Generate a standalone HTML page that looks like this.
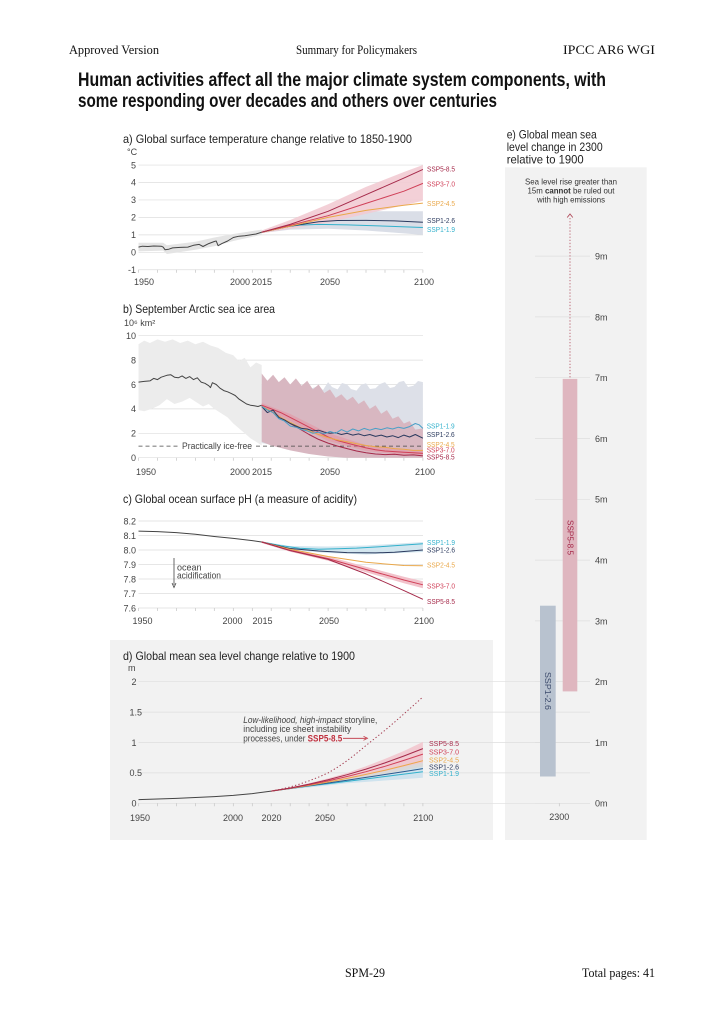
<!DOCTYPE html>
<html><head><meta charset="utf-8"><style>
html,body{margin:0;padding:0;background:#fff}
svg{display:block}
text{font-family:"Liberation Sans",sans-serif}
.t{font-size:9px;fill:#444}
.h{font-size:12px;fill:#222}
.s{font-size:7.5px}
.sf{font-family:"Liberation Serif",serif;font-size:12.5px;fill:#111}
.g{stroke:#dedede;stroke-width:0.7;fill:none}
.ln{fill:none;stroke-width:1;stroke-linejoin:round}
</style></head><body>
<svg width="724" height="1023" viewBox="0 0 724 1023" xmlns="http://www.w3.org/2000/svg">
<defs>
<path id="tk" d="M138.5 0v3M157.5 0v3M176.4 0v3M195.4 0v3M214.3 0v3M233.3 0v3M252.3 0v3M271.2 0v3M290.2 0v3M309.1 0v3M328.1 0v3M347.1 0v3M366 0v3M385 0v3M403.9 0v3M422.9 0v3" stroke="#c4c4c4" stroke-width="0.7"/>
</defs>
<rect width="724" height="1023" fill="#fff"/>

<!-- Header -->
<text class="sf" x="69" y="54" textLength="90" lengthAdjust="spacingAndGlyphs">Approved Version</text>
<text class="sf" x="296" y="54" textLength="121" lengthAdjust="spacingAndGlyphs">Summary for Policymakers</text>
<text class="sf" x="563" y="54" textLength="92" lengthAdjust="spacingAndGlyphs">IPCC AR6 WGI</text>

<text x="78" y="86" font-size="19.5" font-weight="bold" fill="#111" textLength="528" lengthAdjust="spacingAndGlyphs">Human activities affect all the major climate system components, with</text>
<text x="78" y="107" font-size="19.5" font-weight="bold" fill="#111" textLength="419" lengthAdjust="spacingAndGlyphs">some responding over decades and others over centuries</text>

<!-- Panel backgrounds -->
<rect x="110" y="640" width="383" height="200" fill="#f2f2f2"/>
<rect x="505" y="167.3" width="141.7" height="672.7" fill="#f2f2f2"/>

<!-- ===== Panel a ===== -->
<text class="h" x="123" y="143" textLength="289" lengthAdjust="spacingAndGlyphs">a) Global surface temperature change relative to 1850-1900</text>
<text class="t" x="127" y="155" font-size="8">°C</text>
<g class="g">
<path d="M138.5 165.05H423M138.5 182.5H423M138.5 199.95H423M138.5 217.4H423M138.5 234.85H423M138.5 252.3H423M138.5 269.75H423"/>
</g>
<use href="#tk" y="269.75"/>
<g class="t" text-anchor="end">
<text x="136" y="168.3">5</text><text x="136" y="185.7">4</text><text x="136" y="203.2">3</text><text x="136" y="220.6">2</text><text x="136" y="238.1">1</text><text x="136" y="255.5">0</text><text x="136" y="273">-1</text>
</g>
<g class="t" text-anchor="middle">
<text x="144" y="285">1950</text><text x="240" y="285">2000</text><text x="262" y="285">2015</text><text x="330" y="285">2050</text><text x="424" y="285">2100</text>
</g>
<polygon fill="#e4e4e4" points="138.5,242.7 163.1,242.7 166.9,245.3 195.4,241.8 214.3,237.5 233.3,234.0 261.7,229.6 261.7,234.85 233.3,241.0 214.3,246.2 195.4,249.7 166.9,254.0 163.1,250.6 138.5,251.4"/>
<polygon fill="#dadee7" points="261.7,231.0 290.2,222.6 328.1,213.9 366.0,211.3 422.9,211.3 422.9,234.85 366.0,230.5 328.1,228.7 290.2,229.6 261.7,233.1"/>
<polygon fill="#f2cbd3" fill-opacity="0.9" points="261.7,230.5 290.2,220.0 328.1,204.3 366.0,186.9 403.9,172.0 422.9,165.05 422.9,200.8 403.9,205.2 366.0,213.9 328.1,222.6 290.2,228.7 261.7,233.1"/>
<polyline class="ln" stroke="#444" points="138.5,247.1 142.3,246.2 148.0,246.5 153.7,246.0 161.2,246.2 163.1,247.1 165.0,249.7 168.8,249.2 172.6,247.9 180.2,247.4 187.8,247.1 193.5,245.3 199.2,244.4 203.0,246.5 208.7,243.6 214.3,241.5 216.2,241.0 218.1,245.7 221.9,243.6 227.6,241.0 233.3,237.5 239.0,236.2 244.7,235.7 250.4,234.9 256.1,234.0 261.7,232.2"/>
<polyline class="ln" stroke="#33b1cc" points="261.7,232.2 280.7,227.5 299.7,225.1 318.6,224.4 347.1,224.9 385.0,226.1 422.9,227.5"/>
<polyline class="ln" stroke="#2b3a5e" points="261.7,232.2 290.2,226.1 318.6,221.8 337.6,220.5 366.0,220.4 394.5,220.9 422.9,222.3"/>
<polyline class="ln" stroke="#eaa84a" points="261.7,232.2 290.2,226.1 328.1,217.4 366.0,210.4 403.9,205.2 422.9,203.1"/>
<polyline class="ln" stroke="#d04058" points="261.7,232.2 290.2,225.3 328.1,215.7 366.0,203.4 403.9,191.2 422.9,183.4"/>
<polyline class="ln" stroke="#a52a4a" points="261.7,232.2 290.2,224.4 328.1,211.3 366.0,194.7 403.9,178.1 422.9,169.4"/>
<g class="s">
<text x="427" y="171.7" fill="#a52a4a" textLength="28" lengthAdjust="spacingAndGlyphs">SSP5-8.5</text>
<text x="427" y="186.5" fill="#d04058" textLength="28" lengthAdjust="spacingAndGlyphs">SSP3-7.0</text>
<text x="427" y="205.8" fill="#eaa84a" textLength="28" lengthAdjust="spacingAndGlyphs">SSP2-4.5</text>
<text x="427" y="222.8" fill="#2b3a5e" textLength="28" lengthAdjust="spacingAndGlyphs">SSP1-2.6</text>
<text x="427" y="231.8" fill="#33b1cc" textLength="28" lengthAdjust="spacingAndGlyphs">SSP1-1.9</text>
</g>

<!-- ===== Panel b ===== -->
<text class="h" x="123" y="313" textLength="152" lengthAdjust="spacingAndGlyphs">b) September Arctic sea ice area</text>
<text class="t" x="124" y="326" font-size="7.5">10⁶ km²</text>
<g class="g">
<path d="M138.5 335.7H423M138.5 360.1H423M138.5 384.5H423M138.5 408.9H423M138.5 433.3H423M138.5 457.7H423"/>
</g>
<use href="#tk" y="457.7"/>
<g class="t" text-anchor="end">
<text x="136" y="339">10</text><text x="136" y="363.4">8</text><text x="136" y="387.8">6</text><text x="136" y="412.2">4</text><text x="136" y="436.6">2</text><text x="136" y="461">0</text>
</g>
<g class="t" text-anchor="middle">
<text x="146" y="475">1950</text><text x="240" y="475">2000</text><text x="262" y="475">2015</text><text x="330" y="475">2050</text><text x="425" y="475">2100</text>
</g>
<polygon fill="#ececec" points="138.5,344.2 144.2,340.6 149.9,343.0 157.5,339.4 165.0,341.8 172.6,339.4 180.2,343.0 187.8,340.6 195.4,344.2 203.0,341.8 210.5,345.5 218.1,347.9 225.7,352.8 233.3,355.2 239.0,361.3 244.7,357.7 250.4,367.4 256.1,362.5 261.7,365.0 261.7,445.5 256.1,441.8 250.4,438.2 244.7,433.3 239.0,428.4 233.3,423.5 227.6,417.4 221.9,413.8 214.3,408.9 208.7,404.0 203.0,406.5 195.4,401.6 189.7,397.9 182.1,401.6 174.5,404.0 166.9,399.1 159.4,405.2 151.8,408.9 144.2,411.3 138.5,410.1"/>
<polygon fill="#dde0e8" points="261.7,384.5 271.2,384.5 280.7,389.4 290.2,391.8 299.7,394.3 309.1,389.4 318.6,385.7 323,390 328.1,382.1 332,387 337.6,389.4 342,383 347.1,384.5 351,389 356.5,390.6 361,385 366.0,383.3 370,389 375.5,388.2 380,384 385.0,382.1 390,388 394.5,386.9 399,382 403.9,380.9 408,387 413.4,385.7 418,381 422.9,382.1 422.9,454.0 366.0,454.0 328.1,452.8 290.2,447.9 261.7,443.1"/>
<polygon fill="#d8b7c1" points="261.7,373.5 267.4,380.8 273.1,374.7 278.8,382.1 284.5,377.2 290.2,384.5 295.9,378.4 301.6,385.7 307.2,380.8 312.9,389.4 318.6,384.5 324.3,393.0 330.0,389.4 335.7,397.9 341.4,394.3 347.1,400.4 352.8,396.7 358.5,404.0 364.1,400.4 369.8,408.9 375.5,405.2 381.2,413.8 386.9,410.1 392.6,418.7 398.3,416.2 403.9,423.5 409.6,421.1 415.3,429.6 422.9,428.4 422.9,457.7 347.1,457.7 328.1,456.5 309.1,454.0 290.2,450.4 271.2,445.5 261.7,441.8"/>
<!-- dashed practically ice-free -->
<path d="M138.5 446.1H179M256 446.1H423" stroke="#444" stroke-width="0.8" stroke-dasharray="4 3" fill="none"/>
<text class="t" x="182" y="449.2" textLength="70" lengthAdjust="spacingAndGlyphs">Practically ice-free</text>
<polygon fill="#e88a9a" fill-opacity="0.45" points="261.7,403 290.2,414 328.1,433 366.0,445 403.9,450 422.9,451 422.9,456 403.9,455 366.0,451 328.1,441 290.2,421 261.7,407"/>
<polyline class="ln" stroke="#444" points="138.5,382.1 144.2,381.4 149.9,380.9 153.7,378.4 157.5,379.6 161.2,377.2 166.9,375.3 170.7,374.7 174.5,377.2 178.3,377.8 182.1,375.9 185.9,378.4 189.7,376.6 193.5,379.6 197.3,377.8 201.1,382.1 204.9,383.3 208.7,385.7 210.5,387.6 212.4,382.7 216.2,384.5 220.0,388.2 223.8,390.6 227.6,391.8 231.4,393.6 235.2,395.5 239.0,399.1 242.8,401.6 246.6,404.0 250.4,405.2 254.2,405.8 258.0,406.5 261.7,405.2"/>
<polyline class="ln" stroke="#a52a4a" points="261.7,406.5 271.2,411.3 280.7,417.4 290.2,423.5 299.7,429.0 309.1,434.5 318.6,439.4 328.1,443.1 337.6,446.1 347.1,448.6 356.5,451.0 366.0,452.8 375.5,454.0 385.0,454.6 394.5,454.2 403.9,455.3 413.4,454.9 422.9,455.9"/>
<polyline class="ln" stroke="#d04058" points="261.7,405.2 271.2,408.9 280.7,412.6 290.2,417.4 299.7,422.3 309.1,427.2 318.6,432.1 328.1,437.0 337.6,440.6 347.1,443.1 356.5,445.5 366.0,447.9 375.5,449.8 385.0,451.0 394.5,451.6 403.9,452.2 413.4,452.8 422.9,453.4"/>
<polyline class="ln" stroke="#eaa84a" points="261.7,406.5 271.2,411.3 280.7,417.4 290.2,422.3 299.7,427.2 309.1,430.9 318.6,434.5 328.1,437.6 337.6,440.0 347.1,441.8 356.5,443.7 366.0,445.5 375.5,446.7 385.0,447.3 394.5,448.6 403.9,449.2 413.4,450.4 422.9,450.4"/>
<polyline class="ln" stroke="#2b3a5e" points="261.7,406.5 267.4,412.6 273.1,410.1 278.8,417.4 284.5,419.9 290.2,423.5 295.9,426.0 301.6,428.4 307.2,429.0 312.9,430.9 318.6,430.2 324.3,432.1 330.0,433.3 335.7,432.7 341.4,434.5 347.1,433.3 352.8,435.1 358.5,433.9 364.1,435.7 369.8,434.5 375.5,436.4 381.2,435.1 386.9,437.0 392.6,435.7 398.3,437.6 403.9,435.1 409.6,437.0 415.3,434.5 422.9,438.2"/>
<polyline class="ln" stroke="#4a9fc6" points="261.7,406.5 267.4,410.1 273.1,412.6 278.8,418.7 284.5,421.1 290.2,426.0 295.9,427.2 301.6,429.6 307.2,430.9 312.9,433.3 318.6,432.1 324.3,433.9 330.0,431.5 335.7,433.3 341.4,429.6 347.1,432.1 352.8,429.0 358.5,430.9 364.1,428.4 369.8,430.2 375.5,428.4 381.2,429.6 386.9,427.8 392.6,429.0 398.3,427.2 403.9,428.4 409.6,426.6 415.3,423.5 419.1,424.8 422.9,428.4"/>
<g class="s">
<text x="426.7" y="428.3" fill="#33b1cc" textLength="28" lengthAdjust="spacingAndGlyphs">SSP1-1.9</text>
<text x="426.7" y="436.9" fill="#2b3a5e" textLength="28" lengthAdjust="spacingAndGlyphs">SSP1-2.6</text>
<text x="426.7" y="446.9" fill="#eaa84a" textLength="28" lengthAdjust="spacingAndGlyphs">SSP2-4.5</text>
<text x="426.7" y="452.6" fill="#d04058" textLength="28" lengthAdjust="spacingAndGlyphs">SSP3-7.0</text>
<text x="426.7" y="459.3" fill="#a52a4a" textLength="28" lengthAdjust="spacingAndGlyphs">SSP5-8.5</text>
</g>

<!-- ===== Panel c ===== -->
<text class="h" x="123" y="503" textLength="234" lengthAdjust="spacingAndGlyphs">c) Global ocean surface pH (a measure of acidity)</text>
<g class="g">
<path d="M138.5 521H423M138.5 535.5H423M138.5 550H423M138.5 564.5H423M138.5 579H423M138.5 593.5H423M138.5 608H423"/>
</g>
<use href="#tk" y="608"/>
<g class="t" text-anchor="end">
<text x="136" y="524.3">8.2</text><text x="136" y="538.8">8.1</text><text x="136" y="553.3">8.0</text><text x="136" y="567.8">7.9</text><text x="136" y="582.3">7.8</text><text x="136" y="596.8">7.7</text><text x="136" y="611.3">7.6</text>
</g>
<g class="t" text-anchor="middle">
<text x="142.5" y="624">1950</text><text x="232.5" y="624">2000</text><text x="262.5" y="624">2015</text><text x="329" y="624">2050</text><text x="424" y="624">2100</text>
</g>
<polygon fill="#d3e6ef" points="261.7,541.5 290.2,546 328.1,546.5 366.0,545.5 422.9,542 422.9,552 366.0,554.5 328.1,553 290.2,550 261.7,542.5"/>
<polygon fill="#f2c2cb" points="261.7,541 290.2,548.8 328.1,556.4 366.0,566.8 403.9,576.8 422.9,581.3 422.9,588.3 403.9,583.2 366.0,572.2 328.1,560.8 290.2,551.8 261.7,543"/>
<polyline class="ln" stroke="#444" points="138.5,531.15 157.5,531.6 176.4,532.6 195.4,534.3 214.3,536.5 233.3,538.4 252.3,540.6 261.7,542.0"/>
<polyline class="ln" stroke="#33b1cc" points="261.7,542.0 280.7,545.65 299.7,548.3 318.6,549.3 337.6,548.8 356.5,548.1 385.0,546.4 422.9,543.8"/>
<polyline class="ln" stroke="#2b3a5e" points="261.7,542.0 290.2,548.55 318.6,551.0 347.1,552.6 375.5,552.9 394.5,552.2 422.9,550.0"/>
<polyline class="ln" stroke="#eaa84a" points="261.7,542.0 290.2,549.3 328.1,556.5 366.0,562.3 403.9,565.5 422.9,565.7"/>
<polyline class="ln" stroke="#d04058" points="261.7,542.0 290.2,550.3 328.1,558.6 366.0,569.5 403.9,580.0 422.9,584.8"/>
<polyline class="ln" stroke="#a52a4a" points="261.7,542.0 290.2,550.7 328.1,559.4 366.0,573.9 403.9,590.6 422.9,599.3"/>
<path d="M174 558V585" stroke="#444" stroke-width="0.8"/>
<path d="M172 583L174 587.5L176 583" stroke="#444" stroke-width="0.8" fill="none"/>
<text class="t" x="177" y="570.3" font-size="8.5">ocean</text>
<text class="t" x="177" y="578.3" font-size="8.5" textLength="44" lengthAdjust="spacingAndGlyphs">acidification</text>
<g class="s">
<text x="427" y="545" fill="#33b1cc" textLength="28" lengthAdjust="spacingAndGlyphs">SSP1-1.9</text>
<text x="427" y="552.3" fill="#2b3a5e" textLength="28" lengthAdjust="spacingAndGlyphs">SSP1-2.6</text>
<text x="427" y="567.5" fill="#eaa84a" textLength="28" lengthAdjust="spacingAndGlyphs">SSP2-4.5</text>
<text x="427" y="588.3" fill="#d04058" textLength="28" lengthAdjust="spacingAndGlyphs">SSP3-7.0</text>
<text x="427" y="604" fill="#a52a4a" textLength="28" lengthAdjust="spacingAndGlyphs">SSP5-8.5</text>
</g>

<!-- ===== Panel d ===== -->
<text class="h" x="123" y="660" textLength="232" lengthAdjust="spacingAndGlyphs">d) Global mean sea level change relative to 1900</text>
<text class="t" x="128" y="671" font-size="8">m</text>
<g class="g">
<path d="M138.5 681.7H590M138.5 712.1H590M138.5 742.5H590M138.5 772.9H590M138.5 803.3H590"/>
</g>
<use href="#tk" y="803.3"/>
<g class="t">
<text x="131.5" y="685">2</text><text x="129.5" y="715.4">1.5</text><text x="131.5" y="745.8">1</text><text x="129.5" y="776.2">0.5</text><text x="131.5" y="806.6">0</text>
</g>
<g class="t" text-anchor="middle">
<text x="140" y="821">1950</text><text x="233" y="821">2000</text><text x="271.5" y="821">2020</text><text x="325" y="821">2050</text><text x="423.3" y="821">2100</text>
</g>
<polygon fill="#cfe3ee" points="271.2,791.1 309.1,785 347.1,778.4 385.0,771.5 422.9,763.8 422.9,777.8 385.0,780.5 347.1,783.2 309.1,787.5"/>
<polygon fill="#d9d9d9" points="271.2,791.1 309.1,784 347.1,776.0 385.0,766.5 422.9,754.7 422.9,766.8 385.0,774 347.1,780.8 309.1,786.3"/>
<polygon fill="#f2c6ce" fill-opacity="0.9" points="271.2,791.1 290.2,787.5 309.1,783.2 328.1,778.4 347.1,772.9 366.0,766.2 385.0,758.9 403.9,751.0 422.9,741.9 422.9,762.6 403.9,766.8 385.0,771.1 366.0,775.3 347.1,779.0 328.1,782.6 309.1,785.7 290.2,788.7"/>
<polyline class="ln" stroke="#444" points="138.5,799.6 157.5,799.0 176.4,798.4 195.4,797.5 214.3,796.6 233.3,795.4 252.3,793.6 271.2,791.1"/>
<polyline class="ln" stroke="#33b1cc" points="271.2,791.1 290.2,788.5 309.1,786.0 328.1,783.7 347.1,781.4 366.0,779.0 385.0,776.5 403.9,774.1 422.9,771.7"/>
<polyline class="ln" stroke="#2b5a8e" points="271.2,791.1 290.2,788.5 309.1,785.7 328.1,783.0 347.1,780.2 366.0,777.4 385.0,774.5 403.9,771.6 422.9,768.6"/>
<polyline class="ln" stroke="#eaa84a" points="271.2,791.1 290.2,788.4 309.1,785.4 328.1,782.0 347.1,778.4 366.0,774.4 385.0,770.2 403.9,765.6 422.9,760.7"/>
<polyline class="ln" stroke="#d04058" points="271.2,791.1 290.2,788.2 309.1,784.8 328.1,780.9 347.1,776.5 366.0,771.7 385.0,766.3 403.9,760.4 422.9,754.1"/>
<polyline class="ln" stroke="#a52a4a" points="271.2,791.1 290.2,787.95 309.1,784.15 328.1,779.75 347.1,774.7 366.0,769.1 385.0,762.9 403.9,756.0 422.9,748.6"/>
<polyline fill="none" stroke="#a33a4e" stroke-width="1" stroke-dasharray="1.3 2.2" points="271.2,791.1 280.7,789.2 290.2,786.9 299.7,784.1 309.1,780.8 318.6,777.1 328.1,772.9 337.6,767.2 347.1,760.7 356.5,753.4 366.0,745.5 375.5,737.9 385.0,730.3 394.5,722.2 403.9,713.9 413.4,705.5 422.9,696.9"/>
<text class="t" x="243.3" y="723" font-size="8.5" fill="#333" textLength="134" lengthAdjust="spacingAndGlyphs"><tspan font-style="italic">Low-likelihood, high-impact</tspan> storyline,</text>
<text class="t" x="243.3" y="732.2" font-size="8.5" fill="#333" textLength="108" lengthAdjust="spacingAndGlyphs">including ice sheet instability</text>
<text class="t" x="243.3" y="741.3" font-size="8.5" fill="#333" textLength="99" lengthAdjust="spacingAndGlyphs">processes, under <tspan font-weight="bold" fill="#c0303f">SSP5-8.5</tspan></text>
<path d="M343 738.3H366" stroke="#c0303f" stroke-width="0.8"/>
<path d="M363.5 736.3L367.5 738.3L363.5 740.3" stroke="#c0303f" stroke-width="0.8" fill="none"/>
<g class="s">
<text x="429" y="746" fill="#a52a4a" textLength="30" lengthAdjust="spacingAndGlyphs">SSP5-8.5</text>
<text x="429" y="754.4" fill="#d04058" textLength="30" lengthAdjust="spacingAndGlyphs">SSP3-7.0</text>
<text x="429" y="762.4" fill="#eaa84a" textLength="30" lengthAdjust="spacingAndGlyphs">SSP2-4.5</text>
<text x="429" y="769.7" fill="#2b3a5e" textLength="30" lengthAdjust="spacingAndGlyphs">SSP1-2.6</text>
<text x="429" y="776" fill="#33b1cc" textLength="30" lengthAdjust="spacingAndGlyphs">SSP1-1.9</text>
</g>

<!-- ===== Panel e ===== -->
<text class="h" x="506.7" y="138.3" textLength="90" lengthAdjust="spacingAndGlyphs">e) Global mean sea</text>
<text class="h" x="506.7" y="151" textLength="96" lengthAdjust="spacingAndGlyphs">level change in 2300</text>
<text class="h" x="506.7" y="163.3" textLength="77" lengthAdjust="spacingAndGlyphs">relative to 1900</text>
<g text-anchor="middle" font-size="8.5" fill="#333">
<text x="571" y="184.5" textLength="92" lengthAdjust="spacingAndGlyphs">Sea level rise greater than</text>
<text x="571" y="193.7" textLength="87" lengthAdjust="spacingAndGlyphs">15m <tspan font-weight="bold">cannot</tspan> be ruled out</text>
<text x="571" y="202.7" textLength="68" lengthAdjust="spacingAndGlyphs">with high emissions</text>
</g>
<g class="g">
<path d="M535 256.1H590M535 316.9H590M535 377.7H590M535 438.5H590M535 499.3H590M535 560.1H590M535 620.9H590M535 681.7H590M535 742.5H590M535 803.3H590"/>
</g>
<g class="t">
<text x="595" y="259.5">9m</text><text x="595" y="320.3">8m</text><text x="595" y="381.1">7m</text><text x="595" y="441.9">6m</text><text x="595" y="502.7">5m</text><text x="595" y="563.5">4m</text><text x="595" y="624.3">3m</text><text x="595" y="685.1">2m</text><text x="595" y="745.9">1m</text><text x="595" y="806.7">0m</text>
</g>
<path d="M570 218V378" stroke="#b04a5a" stroke-width="0.8" stroke-dasharray="1.3 1.8"/>
<path d="M567.2 217.5L570 214L572.8 217.5" stroke="#b04a5a" stroke-width="0.9" fill="none"/>
<rect x="562.7" y="378.9" width="14.6" height="312.5" fill="#dfb6bf"/>
<rect x="540" y="605.7" width="15.7" height="170.8" fill="#b8c2cf"/>
<text transform="translate(567.6,537.5) rotate(90)" text-anchor="middle" font-size="8.5" fill="#a52a4a" textLength="35" lengthAdjust="spacingAndGlyphs">SSP5-8.5</text>
<text transform="translate(545,691) rotate(90)" text-anchor="middle" font-size="8.5" fill="#3b4a6b" textLength="38" lengthAdjust="spacingAndGlyphs">SSP1-2.6</text>
<path d="M559.3 803.3v3" stroke="#c4c4c4" stroke-width="0.7"/>
<text class="t" x="559.3" y="820" text-anchor="middle">2300</text>

<!-- Footer -->
<text class="sf" x="345" y="977" textLength="40" lengthAdjust="spacingAndGlyphs">SPM-29</text>
<text class="sf" x="582" y="977" textLength="73" lengthAdjust="spacingAndGlyphs">Total pages: 41</text>
</svg>
</body></html>
